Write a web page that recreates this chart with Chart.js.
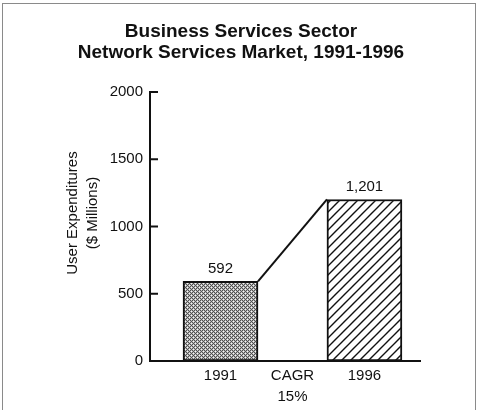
<!DOCTYPE html>
<html>
<head>
<meta charset="utf-8">
<title>Business Services Sector Network Services Market</title>
<script src="https://cdn.jsdelivr.net/npm/chart.js@4/dist/chart.umd.min.js"></script>
<style>
    body { margin: 0; background: #fff; }
    #wrap { position: relative; width: 482px; height: 410px; overflow: hidden; }
    #frame { position: absolute; left: 2px; top: 3px; width: 472px; height: 440px; border: 1.5px solid #8a8a8a; }
    canvas { position: absolute; left: 0; top: 0; }
</style>
</head>
<body>
<div id="wrap">
    <div id="frame"></div>
    <canvas id="chart" width="482" height="410"></canvas>
</div>
<script>
// Chart data
const years = [1991, 1996];
const expenditures = [592, 1201];
const valueLabels = ['592', '1,201'];
const yTicks = [0, 500, 1000, 1500, 2000];
const cagrLabel = ['CAGR', '15%'];
const titleLines = ['Business Services Sector', 'Network Services Market, 1991-1996'];
const yTitle = ['User Expenditures', '($ Millions)'];

const FONT = "'Liberation Sans', Arial, Helvetica, sans-serif";
const cagrPos = (years[0] + years[1]) / 2;

// Fill patterns for the two bars
function crossPattern() {
    const c = document.createElement('canvas');
    c.width = 4; c.height = 4;
    const g = c.getContext('2d');
    g.fillStyle = '#505050';
    g.fillRect(0, 0, 4, 4);
    g.fillStyle = '#b8b8b8';
    [[0, 1], [2, 1], [1, 0], [1, 2], [2, 3], [0, 3], [3, 2], [3, 0]].forEach(p => g.fillRect(p[0], p[1], 1, 1));
    g.fillStyle = '#f4f4f4';
    g.fillRect(1, 1, 1, 1);
    g.fillRect(3, 3, 1, 1);
    return g.createPattern(c, 'repeat');
}

function hatchPattern() {
    const s = 9;
    const c = document.createElement('canvas');
    c.width = s; c.height = s;
    const g = c.getContext('2d');
    g.fillStyle = '#fff';
    g.fillRect(0, 0, s, s);
    g.strokeStyle = '#111';
    g.lineWidth = 1.4;
    g.beginPath();
    g.moveTo(-1, s + 1); g.lineTo(s + 1, -1);
    g.moveTo(-1, 1); g.lineTo(1, -1);
    g.moveTo(s - 1, s + 1); g.lineTo(s + 1, s - 1);
    g.stroke();
    return g.createPattern(c, 'repeat');
}

// Inward tick marks, axis title, value labels and the growth line between the bars
const decorations = {
    id: 'decorations',
    afterDatasetsDraw(chart) {
        const ctx = chart.ctx;
        const yScale = chart.scales.y;
        const bars = chart.getDatasetMeta(0).data;

        ctx.save();
        ctx.strokeStyle = '#111';
        ctx.lineWidth = 2;
        yScale.ticks.forEach(t => {
            const py = yScale.getPixelForValue(t.value);
            ctx.beginPath();
            ctx.moveTo(chart.chartArea.left, py);
            ctx.lineTo(chart.chartArea.left + 8, py);
            ctx.stroke();
        });

        const a = bars[0], b = bars[1];
        ctx.beginPath();
        ctx.moveTo(a.x + a.width / 2, a.y);
        ctx.lineTo(b.x - b.width / 2, b.y);
        ctx.stroke();

        ctx.fillStyle = '#111';
        ctx.font = '15px ' + FONT;
        ctx.textAlign = 'center';
        ctx.textBaseline = 'middle';
        bars.forEach((bar, i) => {
            ctx.fillText(valueLabels[i], bar.x, bar.y - 13);
        });

        // y axis title, sitting a little above the middle of the axis
        const midY = yScale.getPixelForValue(1100);
        ctx.translate(73, midY);
        ctx.rotate(-Math.PI / 2);
        yTitle.forEach((line, i) => ctx.fillText(line, 0, i * 20));
        ctx.restore();
    }
};

const ctx = document.getElementById('chart').getContext('2d');
new Chart(ctx, {
    type: 'bar',
    data: {
        datasets: [{
            data: years.map((yr, i) => ({ x: yr, y: expenditures[i] })),
            backgroundColor: [crossPattern(), hatchPattern()],
            borderColor: '#111',
            borderWidth: 2,
            borderSkipped: false,
            barThickness: 75
        }]
    },
    options: {
        responsive: false,
        animation: false,
        devicePixelRatio: 1,
        layout: { padding: { left: 62, right: 62, top: 0, bottom: 0 } },
        plugins: {
            legend: { display: false },
            tooltip: { enabled: false },
            title: {
                display: true,
                text: titleLines,
                color: '#111',
                font: { family: FONT, size: 19, weight: 'bold', lineHeight: '21px' },
                padding: { top: 21.5, bottom: 28.5 }
            }
        },
        scales: {
            x: {
                type: 'linear',
                offset: false,
                min: 1988.55,
                max: 1997.93,
                grid: { display: false, drawTicks: false },
                border: { display: true, color: '#111', width: 2 },
                afterBuildTicks: scale => {
                    scale.ticks = [years[0], cagrPos, years[1]].map(v => ({ value: v }));
                },
                afterFit: scale => { scale.height = 49; },
                ticks: {
                    color: '#111',
                    padding: 4,
                    maxRotation: 0,
                    autoSkip: false,
                    font: { family: FONT, size: 15, lineHeight: '21px' },
                    callback: v => (v === cagrPos ? cagrLabel : String(v))
                }
            },
            y: {
                min: 0,
                max: 2000,
                grid: { display: false, drawTicks: false },
                border: { display: true, color: '#111', width: 2 },
                afterBuildTicks: scale => {
                    scale.ticks = yTicks.map(v => ({ value: v }));
                },
                afterFit: scale => { scale.width = 88; },
                ticks: {
                    color: '#111',
                    padding: 7,
                    font: { family: FONT, size: 15 },
                    callback: v => String(v)
                }
            }
        }
    },
    plugins: [decorations]
});
</script>
</body>
</html>
